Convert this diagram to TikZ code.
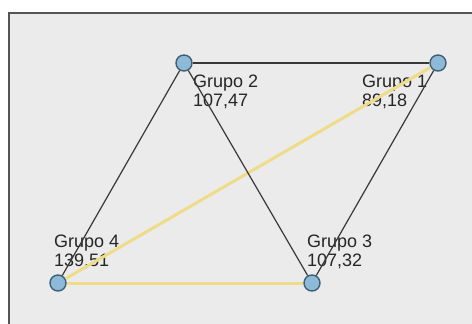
\documentclass[tikz,border=0pt]{standalone}
\usepackage{fontspec}
\setmainfont{Liberation Sans}
\begin{document}
\begin{tikzpicture}[x=1pt,y=-1pt,
  panel/.style={fill=panelgray,draw=framegray,line width=2pt},
  grp/.style={circle,draw=nodeedge,fill=nodefill,line width=1.4pt,minimum size=16pt,inner sep=0pt},
  lbl/.style={anchor=north west,inner sep=0pt,align=left,text=txtgray,font=\fontsize{18}{19}\selectfont},
  darkedge/.style={draw=edgedark,line width=1.2pt},
  yellowedge/.style={draw=edgeyellow,line width=3pt}]
\definecolor{panelgray}{HTML}{EBEBEB}
\definecolor{framegray}{HTML}{555555}
\definecolor{nodefill}{HTML}{8DBAD8}
\definecolor{nodeedge}{HTML}{3E5F74}
\definecolor{edgedark}{HTML}{383838}
\definecolor{edgeyellow}{HTML}{EEDC88}
\definecolor{txtgray}{HTML}{262626}
\useasboundingbox (0,0) rectangle (472,324);
\clip (0,0) rectangle (472,324);
\fill[white] (0,0) rectangle (472,324);
\draw[panel] (9,13) rectangle (490,340);
% group labels
\node[lbl] (l2) at (193,75) {Grupo 2\\107,47};
\node[lbl] (l1) at (362,75) {Grupo 1\\89,18};
\node[lbl] (l4) at (54,235) {Grupo 4\\139,51};
\node[lbl] (l3) at (307,235) {Grupo 3\\107,32};
% group markers
\node[grp] (g2) at (184,63) {};
\node[grp] (g1) at (438,63) {};
\node[grp] (g4) at (58,283) {};
\node[grp] (g3) at (312,283) {};
% connections
\draw[yellowedge] (g4) -- (g1);
\draw[yellowedge] (g4) -- (g3);
\draw[darkedge] (g2) -- (g1);
\draw[darkedge] (g2) -- (g4);
\draw[darkedge] (g2) -- (g3);
\draw[darkedge] (g1) -- (g3);
\end{tikzpicture}
\end{document}
